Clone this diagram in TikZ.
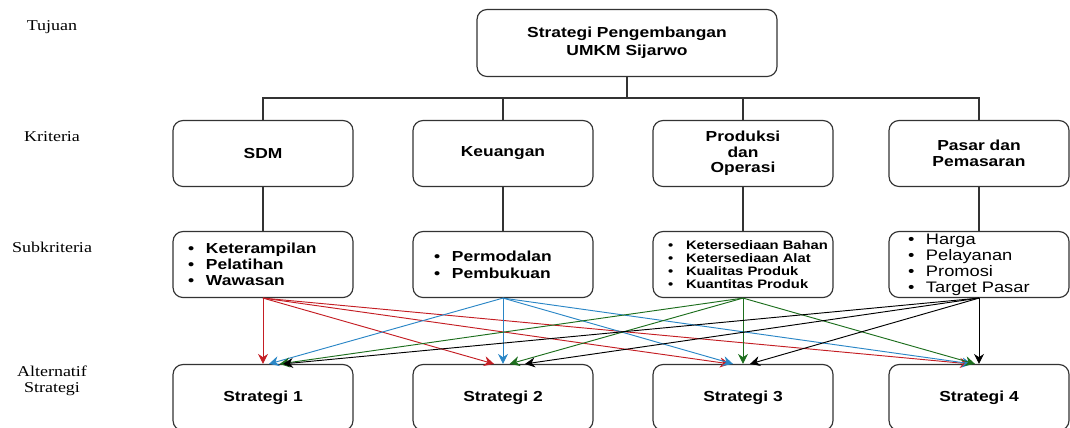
\documentclass[tikz,border=0pt]{standalone}
\usepackage{fontspec}
\setmainfont{Liberation Serif}[FakeStretch=1.2]
\setsansfont{Liberation Sans}[FakeStretch=1.2]
\usepackage{xcolor}
\usepackage{tikz}
\usetikzlibrary{arrows.meta}

\definecolor{garis}{HTML}{333333}
\definecolor{merah}{HTML}{C41E24}
\definecolor{biru}{HTML}{2A86C6}
\definecolor{hijau}{HTML}{1D6E1D}

\newcommand{\butir}[1]{\mbox{\makebox[0.54cm][l]{\textbullet}#1}}

\begin{document}
\begin{tikzpicture}
    [thick,
    kotak/.style = {draw=garis, line width=1pt, rounded corners=0.3cm,
                minimum width=5.4cm, minimum height=1.98cm, align=center,
                font=\sffamily\bfseries\fontsize{12.4}{13.4}\selectfont},
    daftar/.style = {kotak, align=left, text width=#1, inner xsep=0pt, inner ysep=0pt},
    level/.style = {align=center, font=\fontsize{12.8}{13.4}\selectfont},
    hubung/.style = {draw=garis, line width=0.9pt},
    panah/.style = {line width=0.8pt, -{Stealth[length=3mm, width=3mm]}}]
    \useasboundingbox (0,0) rectangle (32.1,-12.81);
    % Label tingkat
    \node[level] (tujuan) at (1.56,-0.8) {Tujuan};
    \node[level] (kriteria) at (1.56,-4.1) {Kriteria};
    \node[level] (subkriteria) at (1.56,-7.41) {Subkriteria};
    \node[level] (alternatif) at (1.56,-11.42) {Alternatif\\Strategi};
    % Tujuan
    \node[kotak, minimum width=9cm, minimum height=2.01cm,
        font=\sffamily\bfseries\fontsize{12.4}{15.4}\selectfont] (utama) at (18.81,-1.29)
        {Strategi Pengembangan\\UMKM Sijarwo};
    % Kriteria
    \node[kotak] (sdm) at (7.89,-4.605) {SDM};
    \node[kotak] (keuangan) at (15.09,-4.605) {Keuangan};
    \node[kotak] (produksi) at (22.29,-4.605) {Produksi\\dan\\Operasi};
    \node[kotak] (pasar) at (29.37,-4.605) {Pasar dan\\Pemasaran};
    % Cabang tujuan ke kriteria
    \coordinate (cabang) at (18.81,-2.94);
    \draw[hubung] (utama.south) |- (cabang -| sdm.north) -- (sdm.north);
    \draw[hubung] (utama.south) |- (cabang -| keuangan.north) -- (keuangan.north);
    \draw[hubung] (utama.south) |- (cabang -| produksi.north) -- (produksi.north);
    \draw[hubung] (utama.south) |- (cabang -| pasar.north) -- (pasar.north);
    % Subkriteria
    \node[daftar=4.5cm] (subsdm) at (7.89,-7.935)
        {\butir{Keterampilan}\\\butir{Pelatihan}\\\butir{Wawasan}};
    \node[daftar=4.14cm, font=\sffamily\bfseries\fontsize{12.4}{14.5}\selectfont] (subkeu) at (15.09,-7.935)
        {\butir{Permodalan}\\\butir{Pembukuan}};
    \node[daftar=4.5cm, font=\sffamily\bfseries\fontsize{10.5}{11.3}\selectfont] (subpro) at (22.29,-7.935)
        {\butir{Ketersediaan Bahan}\\\butir{Ketersediaan Alat}\\\butir{Kualitas Produk}\\\butir{Kuantitas Produk}};
    \node[daftar=4.26cm, font=\sffamily\mdseries\fontsize{13}{13.7}\selectfont] (subpas) at (29.37,-7.935)
        {\butir{Harga}\\\butir{Pelayanan}\\\butir{Promosi}\\\butir{Target Pasar}};
    \draw[hubung] (sdm.south) -- (subsdm.north);
    \draw[hubung] (keuangan.south) -- (subkeu.north);
    \draw[hubung] (produksi.south) -- (subpro.north);
    \draw[hubung] (pasar.south) -- (subpas.north);
    % Alternatif strategi
    \node[kotak] (s1) at (7.89,-11.925) {Strategi 1};
    \node[kotak] (s2) at (15.09,-11.925) {Strategi 2};
    \node[kotak] (s3) at (22.29,-11.925) {Strategi 3};
    \node[kotak] (s4) at (29.37,-11.925) {Strategi 4};
    % Panah SDM
    \draw[panah, merah] (subsdm.south) -- (s1.north);
    \draw[panah, merah] (subsdm.south) -- ([xshift=-0.27cm]s2.north);
    \draw[panah, merah] (subsdm.south) -- ([xshift=-0.39cm]s3.north);
    \draw[panah, merah] (subsdm.south) -- ([xshift=-0.27cm]s4.north);
    % Panah keuangan
    \draw[panah, biru] (subkeu.south) -- ([xshift=0.18cm]s1.north);
    \draw[panah, biru] (subkeu.south) -- (s2.north);
    \draw[panah, biru] (subkeu.south) -- ([xshift=-0.3cm]s3.north);
    \draw[panah, biru] (subkeu.south) -- ([xshift=-0.21cm]s4.north);
    % Panah produksi
    \draw[panah, hijau] (subpro.south) -- ([xshift=0.5cm]s1.north);
    \draw[panah, hijau] (subpro.south) -- ([xshift=0.2cm]s2.north);
    \draw[panah, hijau] (subpro.south) -- (s3.north);
    \draw[panah, hijau] (subpro.south) -- ([xshift=-0.12cm]s4.north);
    % Panah pasar
    \draw[panah, black] (subpas.south) -- ([xshift=0.6cm]s1.north);
    \draw[panah, black] (subpas.south) -- ([xshift=0.66cm]s2.north);
    \draw[panah, black] (subpas.south) -- ([xshift=0.21cm]s3.north);
    \draw[panah, black] (subpas.south) -- (s4.north);
\end{tikzpicture}
\end{document}
